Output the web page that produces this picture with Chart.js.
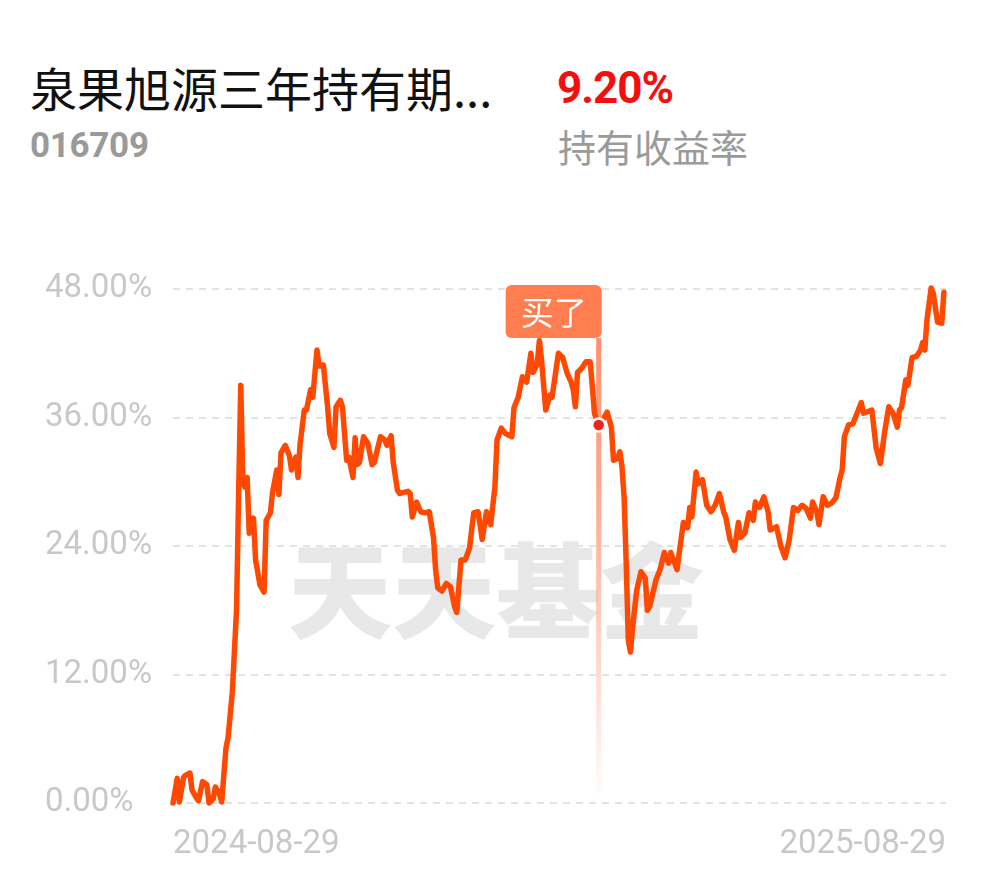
<!DOCTYPE html>
<html>
<head>
<meta charset="utf-8">
<script src="https://cdn.jsdelivr.net/npm/chart.js@4.4.1/dist/chart.umd.min.js"></script>
<style>
  html, body { margin: 0; padding: 0; background: #fff; }
  body { width: 990px; height: 878px; position: relative; overflow: hidden; font-family: Roboto, "Noto Sans CJK SC", sans-serif; }
  .t { position: absolute; white-space: nowrap; line-height: 1; }
  #name { left: 30px; top: 63px; font-size: 47px; color: #111; font-family: "Noto Sans CJK SC", sans-serif; }
  #ret { left: 557px; top: 66px; font-size: 44px; font-weight: bold; color: #f40f0f; letter-spacing: -1px; }
  #code { left: 30px; top: 128px; font-size: 35px; font-weight: bold; color: #9a9a9a; letter-spacing: -0.3px; }
  #retLabel { left: 558px; top: 127px; font-size: 38px; color: #9a9a9a; font-family: "Noto Sans CJK SC", sans-serif; }
  #chart { position: absolute; left: 0; top: 0; }
</style>
</head>
<body>
<div class="t" id="name">泉果旭源三年持有期...</div>
<div class="t" id="ret">9.20%</div>
<div class="t" id="code">016709</div>
<div class="t" id="retLabel">持有收益率</div>
<canvas id="chart" width="990" height="878"></canvas>
<script>
// days since 2024-08-29
const days = [0,2,3,5,6,8,9,11,12,14,16,17,19,20,22,23,25,26,28,30,31,32,33,34,35,36,37,38,39,40,41,43,44,46,47,49,50,51,53,55,56,58,59,60,62,63,65,66,68,69,71,73,74,76,77,79,80,82,83,85,86,87,88,90,92,94,95,98,100,101,103,104,106,107,109,111,112,113,115,117,119,121,123,124,125,127,129,131,133,134,136,138,140,142,144,145,146,148,150,152,153,155,157,160,161,163,165,167,169,170,172,173,174,176,178,179,182,184,186,188,189,190,191,193,195,197,198,199,201,203,205,207,208,210,211,212,213,214,215,216,217,219,221,223,224,225,228,230,232,234,235,238,239,241,243,244,245,247,248,250,252,254,256,258,260,261,263,265,267,268,270,272,274,275,277,279,281,282,285,287,289,291,293,295,297,299,301,302,304,305,307,309,311,313,315,316,317,319,321,323,325,326,330,332,334,336,338,340,342,343,344,346,347,349,351,353,354,355,356,358,359,361,363,364]
// holding return, %
const returns = [0.0,2.3,0.1,2.4,2.6,2.8,1.2,0.5,0.2,2.0,1.7,0.0,0.4,1.5,0.8,0.1,5.1,6.1,10.3,18.0,29.0,39.0,29.9,29.5,30.4,25.2,25.8,26.6,22.7,21.6,20.4,19.7,26.4,27.1,29.0,31.1,28.8,32.7,33.4,32.4,31.1,32.3,30.4,33.5,36.7,36.7,38.6,37.9,42.3,40.8,40.9,37.0,34.5,33.2,37.0,37.6,37.0,32.0,32.3,30.4,34.1,31.6,31.8,34.2,33.6,31.6,31.8,34.2,33.9,33.4,34.3,31.8,29.2,28.9,29.0,29.1,28.9,26.7,28.1,27.2,27.1,27.2,24.8,21.8,20.1,19.8,20.5,20.2,18.3,17.8,22.7,22.7,23.8,27.1,27.2,26.0,24.6,27.2,26.0,29.5,33.9,35.0,34.5,34.2,36.9,37.9,39.8,39.3,42.0,40.2,41.0,43.2,41.4,36.7,38.1,37.9,42.0,41.6,40.2,39.3,38.6,37.0,40.2,40.6,41.2,41.2,38.9,36.4,35.3,35.8,36.5,35.1,32.0,32.2,32.8,31.4,28.6,22.4,15.2,14.1,16.4,19.9,21.6,21.0,18.0,18.3,20.8,21.8,23.4,22.4,23.4,21.8,23.3,26.2,25.7,27.6,26.7,30.9,29.8,30.2,27.8,27.2,27.8,28.9,27.2,26.7,24.6,23.6,26.2,24.8,25.2,27.1,26.4,28.1,27.6,28.6,27.2,25.5,25.8,24.0,22.9,24.6,27.6,27.3,27.8,27.5,26.6,28.1,27.2,26.0,28.6,27.8,28.0,28.5,30.4,31.1,34.2,35.3,35.4,36.4,37.4,36.4,36.7,33.2,31.7,34.6,37.0,36.4,35.1,36.7,36.9,39.5,39.0,41.6,41.7,42.3,43.0,42.3,45.1,48.1,47.6,44.9,44.8,47.7]
const xTickLabels = ['2024-08-29', '2025-08-29']
const xTickDays = [0, 365]
const yTicks = [0, 12, 24, 36, 48]
const buyDay = 201
const buyValue = 35.3
const buyText = '买了'
const watermarkText = '天天基金'

const lineColor = '#ff4800'

const buyPlugin = {
    id: 'buyPlugin',
    beforeDatasetsDraw(chart) {
        const {ctx, chartArea, scales} = chart
        // watermark
        ctx.save()
        ctx.font = '900 104px "Noto Sans CJK SC"'
        ctx.fillStyle = 'rgba(228,228,228,0.85)'
        ctx.textAlign = 'center'
        ctx.textBaseline = 'middle'
        ctx.fillText(watermarkText, chartArea.left + 323, chartArea.top + 302)
        // buy line
        const x = scales.x.getPixelForValue(buyDay)
        const top = chartArea.top + 49
        const bottom = chartArea.bottom - 8
        const grad = ctx.createLinearGradient(0, top, 0, bottom)
        grad.addColorStop(0, 'rgba(255,115,75,0.8)')
        grad.addColorStop(0.35, 'rgba(255,115,75,0.6)')
        grad.addColorStop(1, 'rgba(255,115,75,0.02)')
        ctx.fillStyle = grad
        ctx.fillRect(x - 2.5, top, 5, bottom - top)
        ctx.restore()
    },
    afterDatasetsDraw(chart) {
        const {ctx, chartArea, scales} = chart
        const x = scales.x.getPixelForValue(buyDay)
        ctx.save()
        ctx.fillStyle = '#ff7d4e'
        ctx.beginPath()
        ctx.roundRect(x - 93, chartArea.top - 4, 96, 53, 6)
        ctx.fill()
        ctx.fillStyle = '#fff'
        ctx.font = '33px "Noto Sans CJK SC"'
        ctx.textAlign = 'center'
        ctx.textBaseline = 'middle'
        ctx.fillText(buyText, x - 45, chartArea.top + 23)
        ctx.restore()
    }
}

const chart = new Chart(document.getElementById('chart'), {
    type: 'line',
    data: {
        datasets: [{
            data: days.map((d, i) => ({x: d, y: returns[i]})),
            borderColor: lineColor,
            borderWidth: 5.5,
            borderJoinStyle: 'round',
            borderCapStyle: 'round',
            pointRadius: 0,
            tension: 0,
            clip: false,
            order: 1
        }, {
            // buy point sits on top of the line
            data: [{x: buyDay, y: buyValue}],
            showLine: false,
            pointRadius: 6.5,
            pointBackgroundColor: '#e8261a',
            pointBorderColor: '#fff',
            pointBorderWidth: 2.5,
            clip: false,
            order: 0
        }]
    },
    options: {
        responsive: false,
        animation: false,
        layout: {padding: {left: 45, right: 44, top: 289, bottom: 0}},
        plugins: {legend: {display: false}, tooltip: {enabled: false}},
        scales: {
            x: {
                type: 'linear',
                min: 0,
                max: 365,
                grid: {display: false},
                border: {display: false},
                afterFit(scale) { scale.height = 75 },
                afterBuildTicks(scale) { scale.ticks = xTickDays.map(v => ({value: v})) },
                ticks: {
                    align: 'inner',
                    maxRotation: 0,
                    padding: 14,
                    color: '#c8c8c8',
                    font: {family: 'Roboto', size: 33},
                    callback: (v) => xTickLabels[xTickDays.indexOf(v)]
                }
            },
            y: {
                min: 0,
                max: 48,
                afterFit(scale) { scale.width = 128 },
                afterBuildTicks(scale) { scale.ticks = yTicks.map(v => ({value: v})) },
                grid: {color: '#e3e3e3', lineWidth: 2, drawTicks: false},
                border: {display: false, dash: [7, 6]},
                ticks: {
                    crossAlign: 'far',
                    color: '#c8c8c8',
                    font: {family: 'Roboto', size: 33},
                    callback: (v) => v.toFixed(2) + '%'
                }
            }
        }
    },
    plugins: [buyPlugin]
})
</script>
</body>
</html>
